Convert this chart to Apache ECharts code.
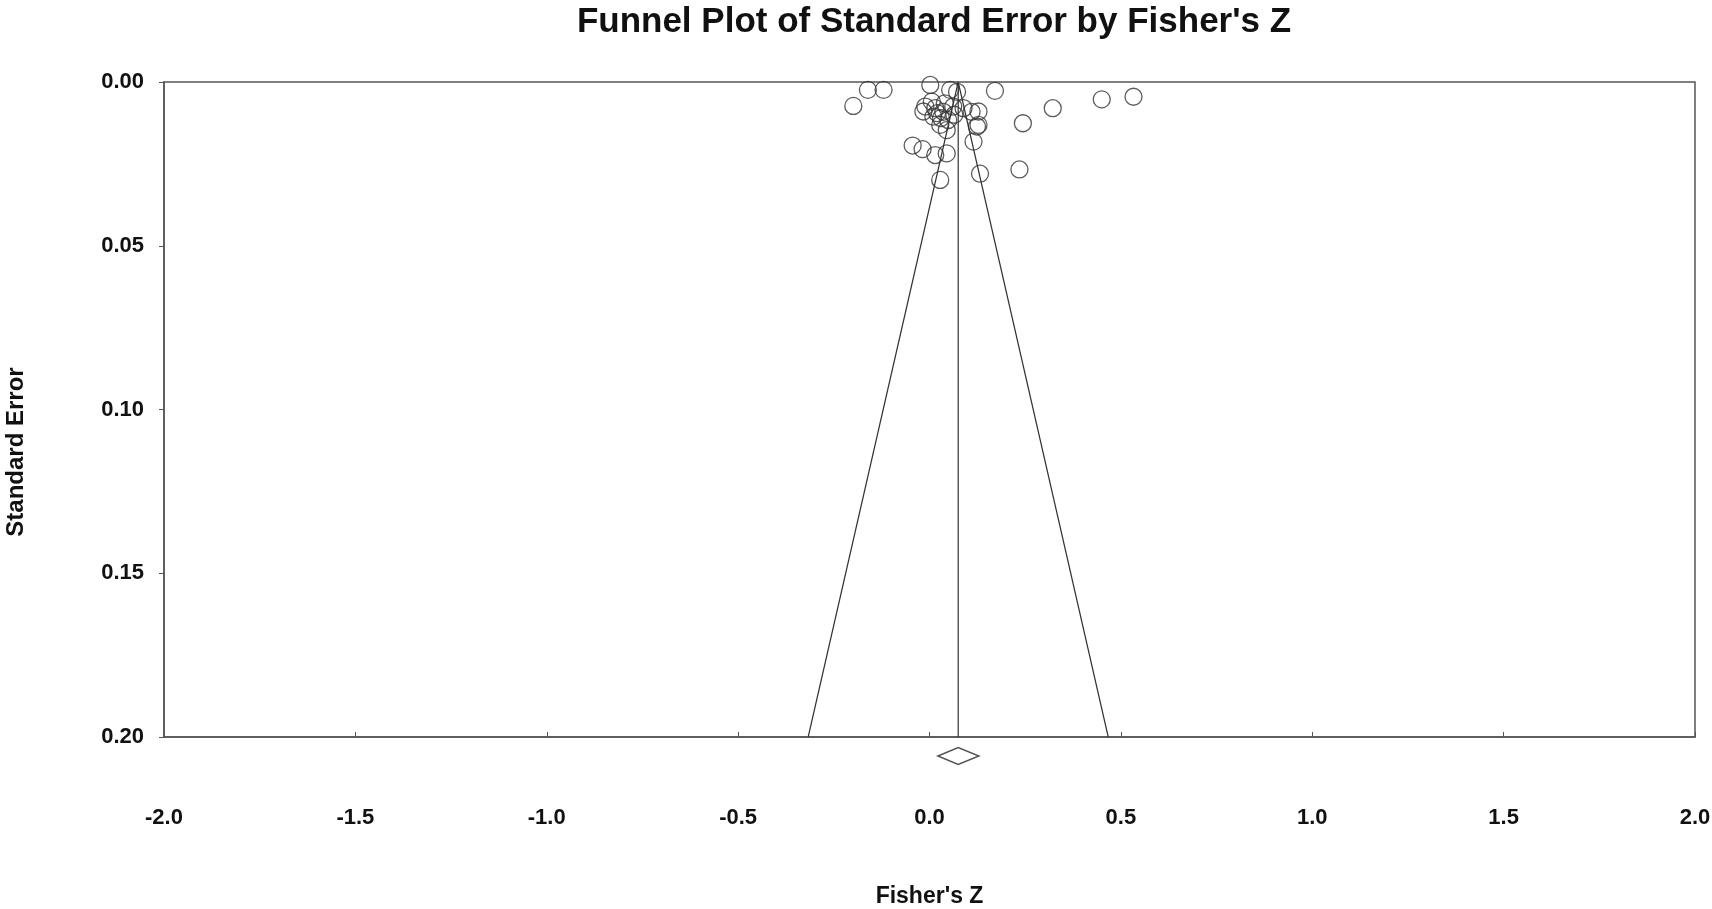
<!DOCTYPE html>
<html>
<head>
<meta charset="utf-8">
<script src="https://cdn.jsdelivr.net/npm/echarts@6/dist/echarts.min.js"></script>
<style>html,body{margin:0;padding:0;background:#fff;}#chart{width:1712px;height:909px;}</style>
</head>
<body>
<div id="chart"></div>
<script>
var titleText = "Funnel Plot of Standard Error by Fisher's Z";
var xAxisName = "Fisher's Z";
var yAxisName = "Standard Error";

// study estimates
var fisherZ = [-0.199, -0.161, -0.120, 0.002, 0.171, 0.450, 0.533, 0.322, 0.244, 0.235,
               0.132, 0.028, -0.044, -0.018, 0.015, 0.045, 0.115, 0.124, 0.054, 0.072,
               -0.011, 0.006, 0.010, 0.036, 0.049, 0.062, 0.089, 0.110, 0.128, 0.128,
               0.028, -0.016, 0.020, 0.030, 0.045, 0.065, 0.015, 0.040];
var standardError = [0.0073, 0.0024, 0.0024, 0.0009, 0.0027, 0.0053, 0.0045, 0.0080, 0.0126, 0.0267,
                     0.0280, 0.0299, 0.0194, 0.0205, 0.0223, 0.0218, 0.0182, 0.0136, 0.0024, 0.0030,
                     0.0075, 0.0060, 0.0106, 0.0091, 0.0116, 0.0075, 0.0080, 0.0091, 0.0090, 0.0131,
                     0.0131, 0.0090, 0.0095, 0.0110, 0.0147, 0.0100, 0.0080, 0.0065];

// combined effect and its confidence interval (diamond)
var combinedZ = 0.075;
var combinedLower = 0.022;
var combinedUpper = 0.129;
var funnelMaxSE = 0.20;
var zCrit = 1.96;

var xTicks = {min: -2.0, max: 2.0, interval: 0.5};
var yTicks = {min: 0.00, max: 0.20, interval: 0.05};

var points = fisherZ.map(function (z, i) { return [z, standardError[i]]; });
var funnel = [
  [combinedZ - zCrit * funnelMaxSE, funnelMaxSE],
  [combinedZ, 0],
  [combinedZ + zCrit * funnelMaxSE, funnelMaxSE]
];
var meanLine = [[combinedZ, 0], [combinedZ, funnelMaxSE]];

var chart = echarts.init(document.getElementById('chart'));
var labelFont = {fontFamily: 'Liberation Sans, Arial, sans-serif', fontWeight: 'bold', color: '#111'};

chart.setOption({
  animation: false,
  backgroundColor: '#fff',
  title: {
    text: titleText,
    left: 929,
    textAlign: 'center',
    top: 0,
    textStyle: Object.assign({fontSize: 35}, labelFont)
  },
  grid: {left: 164, right: 17, top: 82, bottom: 172, outerBoundsMode: 'none', containLabel: false,
         show: true, borderColor: '#555', borderWidth: 1.5},
  xAxis: {
    type: 'value',
    position: 'bottom',
    min: xTicks.min, max: xTicks.max, interval: xTicks.interval,
    name: xAxisName,
    nameLocation: 'middle',
    nameGap: 148,
    nameTextStyle: Object.assign({fontSize: 23}, labelFont),
    axisLine: {show: true, onZero: false, lineStyle: {color: '#555', width: 1.5}},
    axisTick: {show: true, inside: true, length: 5, lineStyle: {color: '#555'}},
    axisLabel: Object.assign({fontSize: 22, margin: 70, formatter: function (v) { return v.toFixed(1); }}, labelFont),
    splitLine: {show: false}
  },
  yAxis: {
    type: 'value',
    position: 'left',
    inverse: true,
    min: yTicks.min, max: yTicks.max, interval: yTicks.interval,
    name: yAxisName,
    nameLocation: 'middle',
    nameGap: 136,
    nameTextStyle: Object.assign({fontSize: 24, padding: [0, 85, 0, 0]}, labelFont),
    axisLine: {show: true, onZero: false, lineStyle: {color: '#555', width: 1.5}},
    axisTick: {show: true, length: 5, lineStyle: {color: '#555'}},
    axisLabel: Object.assign({fontSize: 22, margin: 20, formatter: function (v) { return v.toFixed(2); }}, labelFont),
    splitLine: {show: false}
  },
  series: [
    {
      type: 'line',
      data: funnel,
      symbol: 'none',
      lineStyle: {color: '#333', width: 1.2},
      z: 2
    },
    {
      type: 'line',
      data: meanLine,
      symbol: 'none',
      lineStyle: {color: '#333', width: 1.2},
      z: 2
    },
    {
      type: 'scatter',
      data: points,
      symbol: 'circle',
      symbolSize: 17,
      itemStyle: {color: 'rgba(255,255,255,0)', borderColor: '#333', borderWidth: 1.3},
      z: 3
    },
    {
      type: 'custom',
      clip: false,
      data: [[combinedLower, combinedZ, combinedUpper]],
      renderItem: function (params, api) {
        var lo = api.coord([api.value(0), funnelMaxSE]);
        var mid = api.coord([api.value(1), funnelMaxSE]);
        var hi = api.coord([api.value(2), funnelMaxSE]);
        var cy = lo[1] + 19;
        var h = 8.5;
        return {
          type: 'polygon',
          shape: {points: [[lo[0], cy], [mid[0], cy - h], [hi[0], cy], [mid[0], cy + h]]},
          style: {fill: '#fff', stroke: '#555', lineWidth: 1.5}
        };
      },
      z: 4
    }
  ]
});
</script>
</body>
</html>
